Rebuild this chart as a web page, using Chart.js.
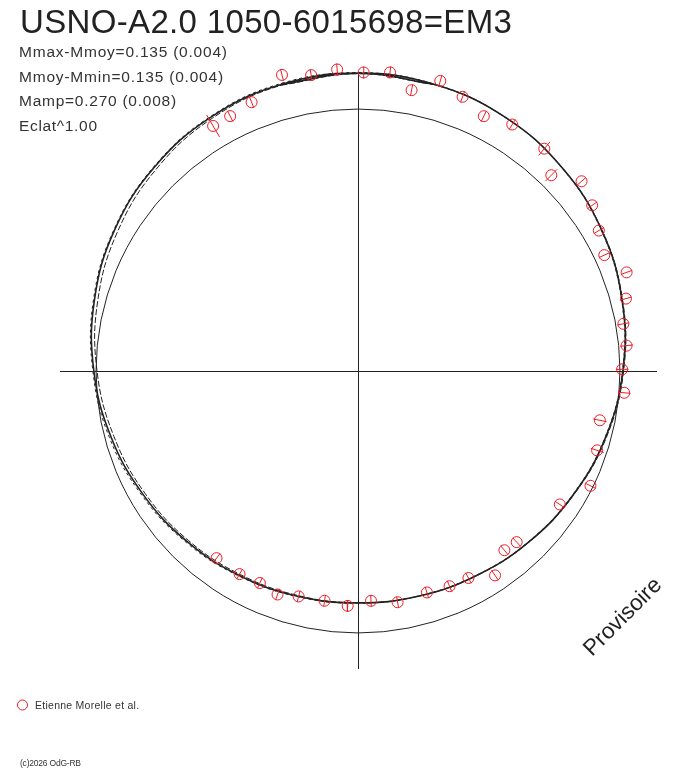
<!DOCTYPE html>
<html>
<head>
<meta charset="utf-8">
<title>USNO-A2.0 1050-6015698=EM3</title>
<script src="https://cdn.jsdelivr.net/npm/chart.js@4.4.1/dist/chart.umd.min.js"></script>
<style>
  html, body { margin: 0; padding: 0; background: #fff; }
  canvas { display: block; }
</style>
</head>
<body>
<canvas id="phaseChart" width="688" height="768"></canvas>
<script>
// observed points: phase (0 = top, clockwise), magnitude offset from mean (brighter = outward), error
const obsPhase = [0.003, 0.017, 0.030, 0.044, 0.058, 0.073, 0.089, 0.111, 0.124, 0.138,
                  0.152, 0.166, 0.180, 0.194, 0.208, 0.222, 0.235, 0.249, 0.263, 0.282,
                  0.301, 0.323, 0.343, 0.381, 0.391, 0.406, 0.422, 0.436, 0.452, 0.473,
                  0.491, 0.507, 0.523, 0.541, 0.555, 0.569, 0.584, 0.603,
                  0.915, 0.926, 0.940, 0.960, 0.975, 0.989];
const obsMag = [0.138, 0.145, 0.086, 0.150, 0.117, 0.079, 0.106, 0.103, 0.042, 0.116,
                0.090, 0.057, 0.030, 0.087, 0.052, 0.019, 0.020, -0.003, 0.009, -0.074,
                -0.053, -0.023, -0.094, -0.129, -0.137, -0.077, -0.124, -0.127, -0.135, -0.124,
                -0.142, -0.122, -0.134, -0.130, -0.112, -0.128, -0.122, -0.124,
                0.081, 0.083, 0.099, 0.167, 0.142, 0.153];
const obsErr = [0.024, 0.024, 0.024, 0.024, 0.024, 0.024, 0.024, 0.036, 0.034, 0.024,
                0.024, 0.024, 0.024, 0.024, 0.024, 0.024, 0.026, 0.026, 0.026, 0.028,
                0.028, 0.024, 0.024, 0.024, 0.024, 0.024, 0.024, 0.024, 0.024, 0.024,
                0.024, 0.024, 0.024, 0.024, 0.024, 0.024, 0.024, 0.024,
                0.052, 0.024, 0.024, 0.024, 0.024, 0.024];

// fitted light curve band, read every 1/24 of phase
const fitPhase = [0, 0.0417, 0.0833, 0.125, 0.1667, 0.2083, 0.25, 0.2917, 0.3333, 0.375, 0.4167, 0.4583,
                  0.5, 0.5417, 0.5833, 0.625, 0.6667, 0.7083, 0.75, 0.7917, 0.8333, 0.875, 0.9167, 0.9583];
const fitMain = [0.135, 0.130, 0.117, 0.095, 0.068, 0.035, 0.000, -0.035, -0.068, -0.095, -0.117, -0.130,
                 -0.135, -0.130, -0.117, -0.096, -0.070, -0.038, -0.003, 0.033, 0.067, 0.095, 0.117, 0.130];
const fitLow = [0.133, 0.129, 0.116, 0.096, 0.069, 0.037, 0.003, -0.032, -0.066, -0.094, -0.116, -0.130,
                -0.136, -0.133, -0.122, -0.103, -0.079, -0.050, -0.016, 0.019, 0.053, 0.084, 0.110, 0.127];
const fitHigh = [0.137, 0.131, 0.117, 0.094, 0.066, 0.033, -0.002, -0.037, -0.070, -0.097, -0.118, -0.131,
                 -0.134, -0.128, -0.114, -0.091, -0.064, -0.031, 0.001, 0.037, 0.070, 0.098, 0.120, 0.134];

const refMag = -0.012;   // the plain reference circle
const axisMax = 1.125;

const titleText = "USNO-A2.0 1050-6015698=EM3";
const statLines = ["Mmax-Mmoy=0.135 (0.004)", "Mmoy-Mmin=0.135 (0.004)", "Mamp=0.270 (0.008)", "Eclat^1.00"];
const observerText = "Etienne Morelle et al.";
const copyText = "(c)2026 OdG-RB";
const stampText = "Provisoire";

const RED = "rgb(236,28,36)";
const INK = "#222222";
const MAG_GAIN = 0.922;

const toRadius = m => 1 + m * MAG_GAIN;
function toXY(phase, mag) {
    const a = Math.PI / 2 - 2 * Math.PI * phase;
    const r = toRadius(mag);
    return { x: r * Math.cos(a), y: r * Math.sin(a) };
}

// closed curve, with one point of overlap on each end so the spline has no kink
function loopPoints(mags) {
    const n = mags.length;
    const pts = [];
    for (let i = -1; i <= n + 1; i++) {
        const k = (i + n) % n;
        pts.push(toXY(fitPhase[k], mags[k]));
    }
    return pts;
}

const obsPoints = obsPhase.map((p, i) => toXY(p, obsMag[i]));
const errPoints = [];
obsPhase.forEach((p, i) => {
    errPoints.push(toXY(p, obsMag[i] - obsErr[i]));
    errPoints.push(toXY(p, obsMag[i] + obsErr[i]));
    errPoints.push({ x: null, y: null });
});

function fitText(ctx, text, x, y, width) {
    ctx.letterSpacing = "0px";
    const w = ctx.measureText(text).width;
    const sp = (width - w) / Math.max(1, text.length - 1);
    ctx.letterSpacing = sp.toFixed(2) + "px";
    ctx.fillText(text, x, y);
    ctx.letterSpacing = "0px";
}

const framePlugin = {
    id: "frame",
    beforeDatasetsDraw(chart) {
        const { ctx, chartArea, scales: { x, y } } = chart;
        const cx = x.getPixelForValue(0), cy = y.getPixelForValue(0);
        ctx.save();
        ctx.strokeStyle = INK;
        ctx.lineWidth = 1;
        ctx.beginPath();
        ctx.moveTo(chartArea.left, Math.round(cy) + 0.5);
        ctx.lineTo(chartArea.right + 1, Math.round(cy) + 0.5);
        ctx.moveTo(Math.round(cx) + 0.5, chartArea.top + 1);
        ctx.lineTo(Math.round(cx) + 0.5, chartArea.bottom);
        ctx.stroke();
        const rr = x.getPixelForValue(toRadius(refMag)) - cx;
        ctx.beginPath();
        ctx.arc(cx, cy, rr, 0, Math.PI * 2);
        ctx.stroke();
        ctx.restore();
    },
    afterDraw(chart) {
        const ctx = chart.ctx;
        ctx.save();
        ctx.fillStyle = INK;
        ctx.textBaseline = "alphabetic";
        ctx.textAlign = "left";
        ctx.font = "33px 'Liberation Sans', Arial, sans-serif";
        fitText(ctx, titleText, 20, 33, 492);

        ctx.fillStyle = "#333";
        ctx.font = "15.5px 'Liberation Sans', Arial, sans-serif";
        const widths = [208, 204, 157, 78];
        statLines.forEach((s, i) => fitText(ctx, s, 19, 57 + i * 24.7, widths[i]));

        // legend
        ctx.strokeStyle = RED;
        ctx.lineWidth = 1;
        ctx.beginPath();
        ctx.arc(22.5, 705, 5, 0, Math.PI * 2);
        ctx.stroke();
        ctx.fillStyle = "#333";
        ctx.font = "10.5px 'Liberation Sans', Arial, sans-serif";
        fitText(ctx, observerText, 35, 709, 104);

        ctx.font = "8.5px 'Liberation Sans', Arial, sans-serif";
        fitText(ctx, copyText, 20, 766, 61);

        // stamp
        ctx.fillStyle = INK;
        ctx.font = "22.5px 'Liberation Sans', Arial, sans-serif";
        ctx.translate(592, 657);
        ctx.rotate(-Math.PI / 4);
        ctx.fillText(stampText, 0, 0);
        ctx.restore();
    }
};

const curveStyle = (dash, width) => ({
    showLine: true,
    pointRadius: 0,
    borderColor: INK,
    borderWidth: width,
    borderDash: dash,
    tension: 0.4,
    fill: false,
    clip: false
});

new Chart(document.getElementById("phaseChart"), {
    type: "scatter",
    data: {
        datasets: [
            {
                label: observerText,
                data: obsPoints,
                pointStyle: "circle",
                pointRadius: 5.5,
                pointBorderWidth: 1,
                pointBorderColor: RED,
                pointBackgroundColor: "rgba(0,0,0,0)",
                showLine: false,
                clip: false
            },
            {
                label: "errors",
                data: errPoints,
                showLine: true,
                spanGaps: false,
                pointRadius: 0,
                borderColor: RED,
                borderWidth: 1,
                clip: false
            },
            Object.assign({ label: "fit", data: loopPoints(fitMain) }, curveStyle([], 1.6)),
            Object.assign({ label: "fit low", data: loopPoints(fitLow) }, curveStyle([6, 2], 1)),
            Object.assign({ label: "fit high", data: loopPoints(fitHigh) }, curveStyle([3, 3], 1))
        ]
    },
    options: {
        responsive: false,
        animation: false,
        layout: { padding: { left: 60, right: 32, top: 73, bottom: 99 } },
        plugins: {
            legend: { display: false },
            tooltip: { enabled: false }
        },
        scales: {
            x: { type: "linear", min: -axisMax, max: axisMax, display: false },
            y: { type: "linear", min: -axisMax, max: axisMax, display: false }
        }
    },
    plugins: [framePlugin]
});
</script>
</body>
</html>
